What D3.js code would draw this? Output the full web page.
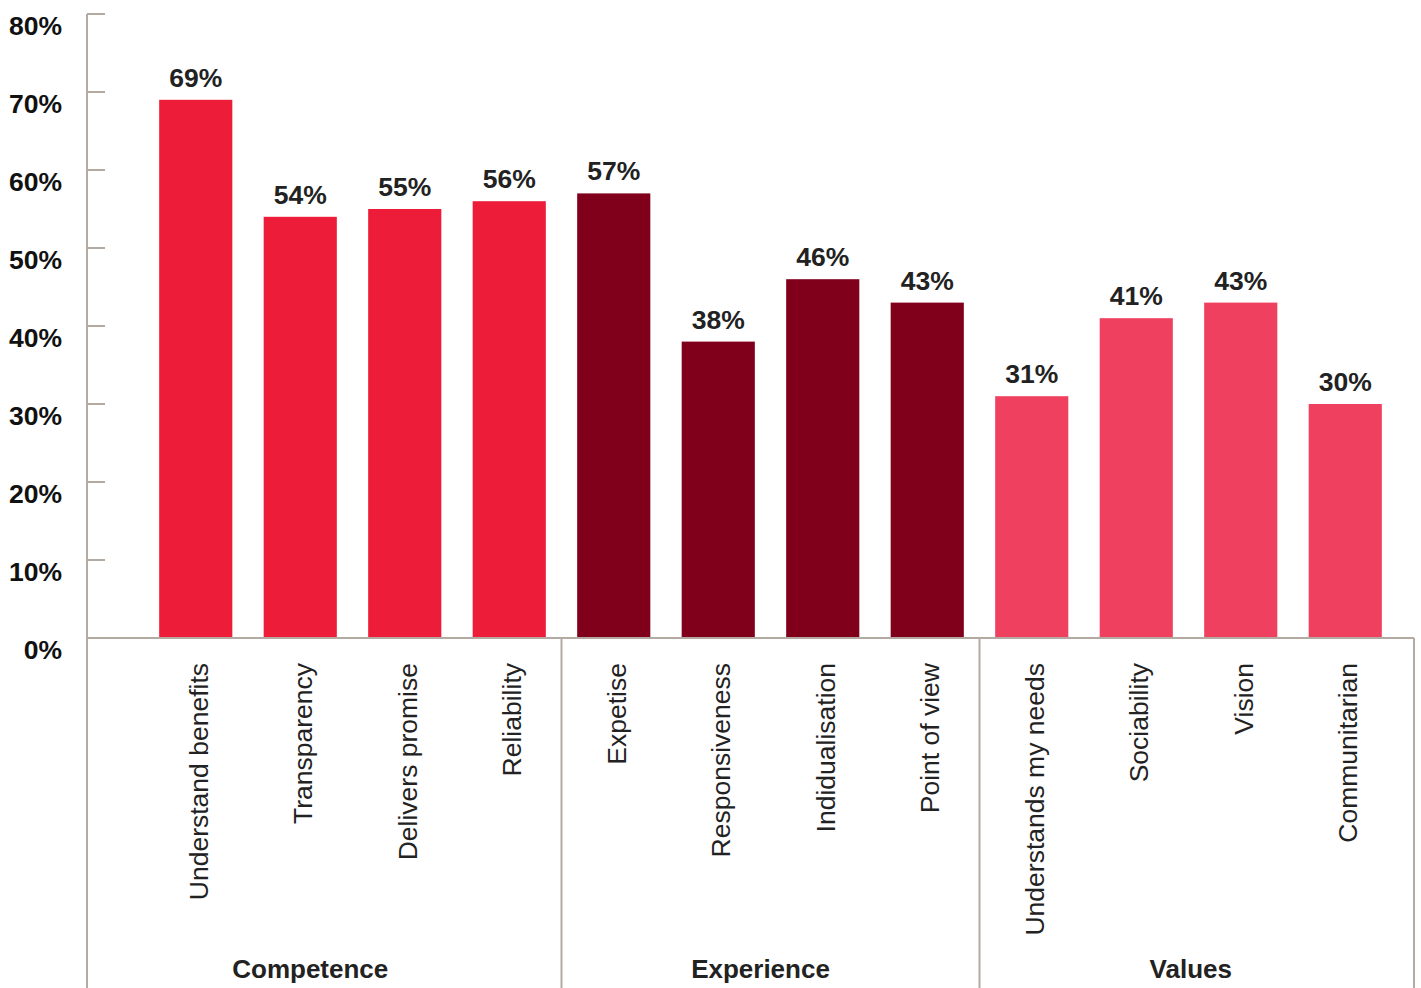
<!DOCTYPE html>
<html>
<head>
<meta charset="utf-8">
<script src="https://cdn.jsdelivr.net/npm/d3@7"></script>
<style>
  body { margin: 0; background: #fff; }
  text { font-family: "Liberation Sans", Arial, Helvetica, sans-serif; }
</style>
</head>
<body>
<div id="chart"></div>
<script>
// chart data
const categories = ["Understand benefits", "Transparency", "Delivers promise", "Reliability",
  "Expetise", "Responsiveness", "Indidualisation", "Point of view",
  "Understands my needs", "Sociability", "Vision", "Communitarian"];
const values = [69, 54, 55, 56, 57, 38, 46, 43, 31, 41, 43, 30];
const groupOf = ["Competence", "Competence", "Competence", "Competence",
  "Experience", "Experience", "Experience", "Experience",
  "Values", "Values", "Values", "Values"];
const groups = ["Competence", "Experience", "Values"];
const groupColors = ["#ed1c38", "#80001c", "#f04060"];
const yTicks = [0, 10, 20, 30, 40, 50, 60, 70, 80];

const W = 1421, H = 988;
const axisX = 87, rightX = 1414, y0 = 638, yTop = 14;
const gridColor = "#b3aaa2";

const svg = d3.select("#chart").append("svg")
  .attr("width", W).attr("height", H);

const x = d3.scaleBand()
  .domain(categories)
  .range([143.5, 1397.5])
  .paddingInner(0.3)
  .paddingOuter(0.15);

const y = d3.scaleLinear().domain([0, 80]).range([y0, yTop]);
const color = d3.scaleOrdinal().domain(groups).range(groupColors);

// y axis line + ticks
svg.append("line")
  .attr("x1", axisX).attr("x2", axisX)
  .attr("y1", y(80)).attr("y2", H)
  .attr("stroke", gridColor).attr("stroke-width", 2);

svg.selectAll(".ytick").data(yTicks).enter().append("line")
  .attr("x1", axisX).attr("x2", axisX + 18)
  .attr("y1", d => y(d)).attr("y2", d => y(d))
  .attr("stroke", gridColor).attr("stroke-width", 2);

svg.selectAll(".ylab").data(yTicks).enter().append("text")
  .attr("x", 62).attr("y", d => y(d) + 21)
  .attr("text-anchor", "end")
  .attr("font-size", 26.5).attr("font-weight", "bold")
  .attr("fill", "#111")
  .text(d => d + "%");

// bars
svg.selectAll(".bar").data(categories).enter().append("rect")
  .attr("x", d => x(d))
  .attr("y", (d, i) => y(values[i]))
  .attr("width", x.bandwidth())
  .attr("height", (d, i) => y0 - y(values[i]))
  .attr("fill", (d, i) => color(groupOf[i]));

// baseline
svg.append("line")
  .attr("x1", axisX).attr("x2", rightX)
  .attr("y1", y0).attr("y2", y0)
  .attr("stroke", gridColor).attr("stroke-width", 2);

// value labels
svg.selectAll(".vlab").data(categories).enter().append("text")
  .attr("x", d => x(d) + x.bandwidth() / 2)
  .attr("y", (d, i) => y(values[i]) - 13)
  .attr("text-anchor", "middle")
  .attr("font-size", 26.5).attr("font-weight", "bold")
  .attr("fill", "#222")
  .text((d, i) => values[i] + "%");

// category labels, rotated
svg.selectAll(".clab").data(categories).enter().append("text")
  .attr("transform", d => "translate(" + (x(d) + x.bandwidth() / 2 + 12) + "," + 663 + ") rotate(-90)")
  .attr("text-anchor", "end")
  .attr("font-size", 26.5)
  .attr("fill", "#222")
  .text(d => d);

// group separators and labels
const bounds = groups.map(g => {
  const cats = categories.filter((c, i) => groupOf[i] === g);
  return [x(cats[0]), x(cats[cats.length - 1]) + x.bandwidth()];
});
const seps = [axisX];
for (let i = 0; i < bounds.length - 1; i++) seps.push((bounds[i][1] + bounds[i + 1][0]) / 2);
seps.push(rightX);

svg.selectAll(".sep").data(seps.slice(1)).enter().append("line")
  .attr("x1", d => d).attr("x2", d => d)
  .attr("y1", y0).attr("y2", H)
  .attr("stroke", gridColor).attr("stroke-width", 2);

svg.selectAll(".glab").data(groups).enter().append("text")
  .attr("x", (d, i) => (seps[i] + seps[i + 1]) / 2 - 14 + i * 4)
  .attr("y", 978)
  .attr("text-anchor", "middle")
  .attr("font-size", 26).attr("font-weight", "bold")
  .attr("fill", "#222")
  .text(d => d);
</script>
</body>
</html>
